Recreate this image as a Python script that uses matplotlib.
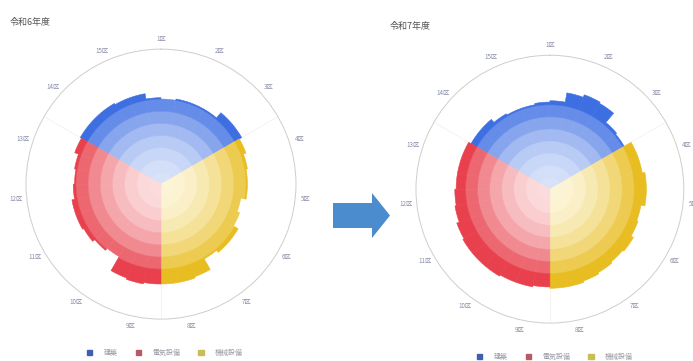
import numpy as np
import matplotlib
matplotlib.use("Agg")
import matplotlib.pyplot as plt
from matplotlib.patches import Patch, Polygon
from matplotlib.colors import to_rgb

plt.rcParams['font.family'] = ['Noto Sans CJK JP', 'DejaVu Sans']

# ---- data (radial axis 0..100) ----
titles = ["令和6年度", "令和7年度"]
categories = ["建築", "電気設備", "機械設備"]
angle_labels = ["1区", "2区", "3区", "4区", "5区", "6区", "7区", "8区",
                "9区", "10区", "11区", "12区", "13区", "14区", "15区"]

# 12 bins of 10 degrees per category, clockwise from the top
left_blue = [69, 69, 69, 68, 68, 64, 63, 64, 64, 64, 69, 69]
left_yellow = [67, 65, 64, 64, 60, 62, 66, 66, 64, 73, 74, 74]
left_red = [74, 75, 74, 62, 64, 66, 67, 67, 65, 64, 65, 68]

right_blue = [68, 68, 65, 64, 64, 65, 66, 73, 75, 74, 65, 64]
right_yellow = [70, 70, 72, 72, 69, 70, 72, 71, 72, 73, 74, 74]
right_red = [73, 74, 74, 75, 75, 75, 74, 72, 71, 70, 70, 70]

ring_edges = [0, 9, 18, 27, 36, 45, 54, 63]

blue_light, blue_dark = "#e4ecfb", "#3d6fe2"
yellow_light, yellow_dark = "#fdf9e6", "#e8bd22"
red_light, red_dark = "#fde9e9", "#e8404c"

legend_colors = ["#3f5fb0", "#b85a66", "#cbbd55"]


def blend(c1, c2, t):
    a = np.array(to_rgb(c1))
    b = np.array(to_rgb(c2))
    return tuple(a + (b - a) * t)


def draw_sector(ax, start_deg, values, light, dark):
    n_levels = len(ring_edges)
    width = np.deg2rad(10)
    for k, val in enumerate(values):
        theta = np.deg2rad(start_deg + 10 * k + 5)
        for lvl in range(n_levels):
            lo = ring_edges[lvl]
            hi = ring_edges[lvl + 1] if lvl + 1 < n_levels else val
            hi = min(hi, val)
            if hi <= lo:
                continue
            t = 0.08 + 0.92 * (lvl / (n_levels - 1)) ** 1.9
            c = blend(light, dark, t)
            ax.bar(theta, hi - lo, width=width, bottom=lo, color=c,
                   edgecolor=c, linewidth=0.4, zorder=2)


def draw_chart(ax, blue, yellow, red):
    ax.set_theta_zero_location('N')
    ax.set_theta_direction(-1)
    ax.set_ylim(0, 100)
    ax.grid(False)
    ax.set_yticks([])
    for a in [60, 180, 300]:
        ax.plot([np.deg2rad(a)] * 2, [0, 100], color="#f1edf3", lw=0.5, zorder=1)
    draw_sector(ax, -60, blue, blue_light, blue_dark)
    draw_sector(ax, 60, yellow, yellow_light, yellow_dark)
    draw_sector(ax, 180, red, red_light, red_dark)
    ax.set_xticks(np.deg2rad(np.arange(0, 360, 24)))
    ax.set_xticklabels(angle_labels, fontsize=4.5, color="#8a8ea8")
    ax.tick_params(pad=-3)
    ax.spines['polar'].set_color("#d2cccc")
    ax.spines['polar'].set_linewidth(0.7)


fig = plt.figure(figsize=(6.93, 3.61), dpi=100)

ax1 = fig.add_axes([0.0375, 0.116, 0.3896, 0.748], projection='polar')
draw_chart(ax1, left_blue, left_yellow, left_red)

ax2 = fig.add_axes([0.600, 0.105, 0.387, 0.742], projection='polar')
draw_chart(ax2, right_blue, right_yellow, right_red)

fig.text(10 / 693, 1 - 22 / 361, titles[0], fontsize=6.5, color="#555555", va='center')
fig.text(390 / 693, 1 - 27 / 361, titles[1], fontsize=6.5, color="#555555", va='center')

handles = [Patch(facecolor=c, edgecolor=c) for c in legend_colors]
for cx, cy in [(165 / 693, 1 - 353 / 361), (555 / 693, 1 - 357 / 361)]:
    fig.legend(handles, categories, loc='center', bbox_to_anchor=(cx, cy), ncol=3,
               frameon=False, fontsize=5, handlelength=0.8, handleheight=0.8,
               handletextpad=1.6, columnspacing=2.6, labelcolor="#9a9aa6")

# arrow between the two charts
W, H = 693, 361
pts = [(333, 203), (372, 203), (372, 193), (390, 215.5), (372, 238), (372, 228), (333, 228)]
arrow = Polygon([(x / W, 1 - y / H) for x, y in pts], closed=True,
                transform=fig.transFigure, facecolor="#4a8ccd", edgecolor="none")
fig.patches.append(arrow)

fig.savefig("out.png", dpi=100, facecolor="white")
